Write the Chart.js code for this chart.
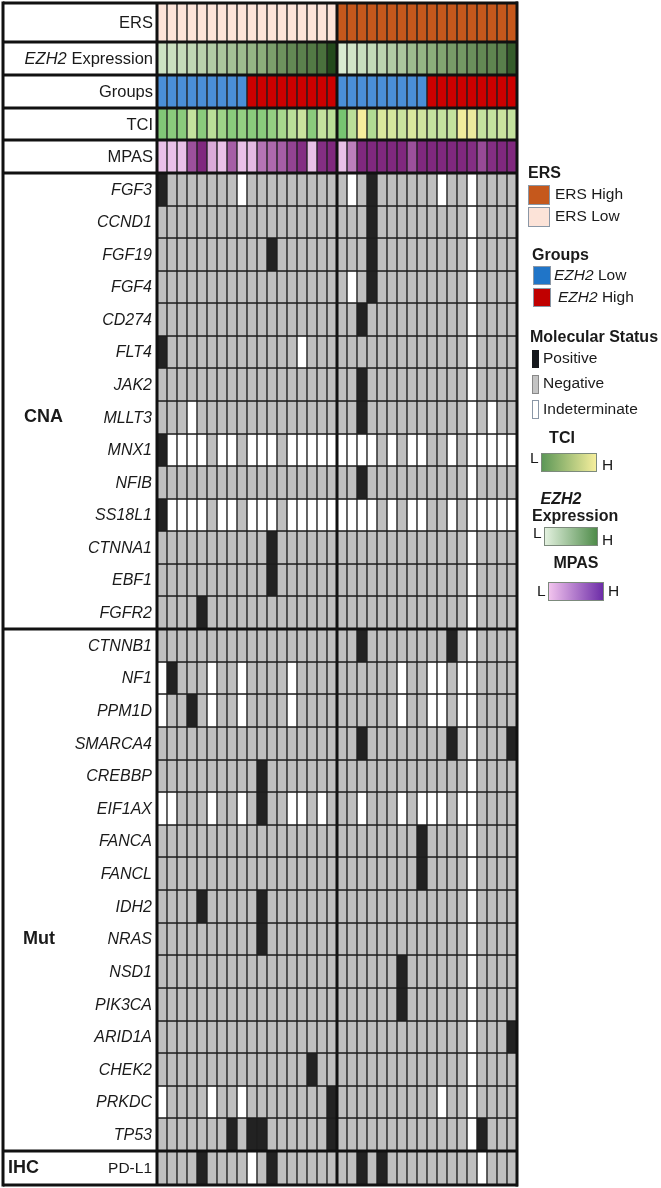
<!DOCTYPE html>
<html><head><meta charset="utf-8">
<script src="https://cdn.jsdelivr.net/npm/chart.js@4.4.0/dist/chart.umd.min.js"></script>
<style>html,body{margin:0;padding:0;background:#fff;}#wrap{width:661px;height:1188px;}</style>
</head><body><div id="wrap"><canvas id="c" width="661" height="1188"></canvas></div>
<script>
// ---------------- DATA ----------------
const patients = ['P1','P2','P3','P4','P5','P6','P7','P8','P9','P10','P11','P12','P13','P14','P15','P16','P17','P18',
                  'P19','P20','P21','P22','P23','P24','P25','P26','P27','P28','P29','P30','P31','P32','P33','P34','P35','P36'];
const annotLabels = ['ERS', 'EZH2 Expression', 'Groups', 'TCI', 'MPAS'];
// ERS: L = low, H = high
const ersStatus   = 'LLLLLLLLLLLLLLLLLLHHHHHHHHHHHHHHHHHH';
// Groups: L = EZH2 low, H = EZH2 high
const groupStatus = 'LLLLLLLLLHHHHHHHHHLLLLLLLLLHHHHHHHHH';
const ezh2Expr = [0.12,0.14,0.17,0.2,0.24,0.28,0.32,0.36,0.4,0.45,0.5,0.58,0.65,0.7,0.74,0.78,0.82,0.97,
                  0.05,0.1,0.15,0.18,0.22,0.28,0.32,0.4,0.45,0.5,0.55,0.6,0.62,0.66,0.7,0.72,0.75,0.9];
const tciScore = [0.15,0.2,0.2,0.5,0.2,0.45,0.3,0.2,0.25,0.2,0.2,0.25,0.35,0.45,0.55,0.2,0.5,0.45,
                  0.1,0.45,0.95,0.4,0.7,0.65,0.55,0.7,0.6,0.5,0.5,0.5,0.9,0.85,0.5,0.5,0.55,0.5];
const mpasScore = [0.05,0.05,0.05,0.6,0.9,0.15,0.05,0.5,0.05,0.08,0.4,0.45,0.5,0.7,0.85,0.05,0.85,0.9,
                   0.05,0.35,0.9,0.9,0.9,0.9,0.9,0.6,0.9,0.9,0.9,0.9,0.9,0.85,0.65,0.85,0.9,0.9];
// Molecular status: 0 negative, 1 positive, 2 indeterminate (18 ERS-low + 18 ERS-high)
const cnaGenes = ['FGF3','CCND1','FGF19','FGF4','CD274','FLT4','JAK2','MLLT3','MNX1','NFIB','SS18L1','CTNNA1','EBF1','FGFR2'];
const cnaStatus = [
  '100000002000000000'+'020100000020020000',
  '000000000000000000'+'000100000000020000',
  '000000000001000000'+'000100000000020000',
  '000000000000000000'+'020100000000020000',
  '000000000000000000'+'001000000000020000',
  '100000000000002000'+'000000000000020000',
  '000000000000000000'+'001000000000020000',
  '000200000000000000'+'001000000000020200',
  '122220220222022222'+'222202022002022222',
  '000000000000000000'+'001000000000020000',
  '122220220222022222'+'222202022002022222',
  '000000000001000000'+'000000000000020000',
  '000000000001000000'+'000000000000020000',
  '000010000000000000'+'000000000000020000'
];
const mutGenes = ['CTNNB1','NF1','PPM1D','SMARCA4','CREBBP','EIF1AX','FANCA','FANCL','IDH2','NRAS','NSD1','PIK3CA','ARID1A','CHEK2','PRKDC','TP53'];
const mutStatus = [
  '000000000000000000'+'001000000001020000',
  '210002002000020000'+'000000200220220000',
  '200102002000020000'+'000000200220220000',
  '000000000000000000'+'001000000001020001',
  '000000000010000000'+'000000000000020000',
  '220002002010022020'+'002000202220220000',
  '000000000000000000'+'000000001000020000',
  '000000000000000000'+'000000001000020000',
  '000010000010000000'+'000000000000020000',
  '000000000010000000'+'000000000000020000',
  '000000000000000000'+'000000100000020000',
  '000000000000000000'+'000000100000020000',
  '000000000000000000'+'000000000000020001',
  '000000000000000100'+'000000000000020000',
  '200002002000000001'+'000000000020020000',
  '000000010110000001'+'000000000000021000'
];
const ihcMarkers = ['PD-L1'];
const ihcStatus = ['000010000201000000'+'001010000000002000'];

// ---------------- STYLE ----------------
const FONT = "'Liberation Sans', Arial, sans-serif";
const statusColor = ['#bfbfbf', '#222222', '#ffffff'];
function hex2rgb(h){return [1,3,5].map(i=>parseInt(h.substr(i,2),16));}
function ramp(stops){ return v => {
  for (let i=0;i<stops.length-1;i++){
    const [a,ca]=stops[i],[b,cb]=stops[i+1];
    if (v<=b || i===stops.length-2){ const t=Math.max(0,Math.min(1,(v-a)/(b-a)));
      const A=hex2rgb(ca),B=hex2rgb(cb);
      return 'rgb('+A.map((x,k)=>Math.round(x+(B[k]-x)*t)).join(',')+')'; }
  }};}
const ezh2Ramp = ramp([[0,'#e2f2da'],[0.5,'#8cae7b'],[0.8,'#4f7641'],[1,'#1b4215']]);
const tciRamp  = ramp([[0,'#64bc66'],[0.5,'#c4e29e'],[1,'#fbee9c']]);
const mpasRamp = ramp([[0,'#f1ccef'],[0.5,'#a65ea6'],[1,'#761a74']]);

// ---------------- GEOMETRY ----------------
const annBounds = [3,42,75,108,140,173];
const cnaTop = 173, cnaBot = 629, mutBot = 1151, ihcBot = 1185;
const rows = [];
const annColors = [
  ersStatus.split('').map(s => s==='H' ? '#c5581c' : '#fce3d8'),
  ezh2Expr.map(ezh2Ramp),
  groupStatus.split('').map(s => s==='H' ? '#cc0000' : '#4a8fd8'),
  tciScore.map(tciRamp),
  mpasScore.map(mpasRamp)
];
annotLabels.forEach((n,i)=>rows.push({name:n, top:annBounds[i], bot:annBounds[i+1], colors:annColors[i]}));
function addBlock(names, status, top, bot){
  const h=(bot-top)/names.length;
  names.forEach((n,i)=>rows.push({name:n, top:Math.round(top+i*h), bot:Math.round(top+(i+1)*h),
    colors: status[i].split('').map(c=>statusColor[+c])}));
}
addBlock(cnaGenes, cnaStatus, cnaTop, cnaBot);
addBlock(mutGenes, mutStatus, cnaBot, mutBot);
addBlock(ihcMarkers, ihcStatus, mutBot, ihcBot);

const datasets = rows.map(r => ({
  label: r.name,
  data: patients.map(() => [r.top, r.bot]),
  backgroundColor: r.colors,
  borderColor: '#1e1e1e',
  borderWidth: 1,
  borderSkipped: false,
  grouped: false,
  categoryPercentage: 1,
  barPercentage: 1
}));

// ---------------- DECORATION PLUGIN ----------------
function mixedText(ctx, parts, x, y, align){
  let total=0; parts.forEach(p=>{ctx.font=p[1]; total+=ctx.measureText(p[0]).width;});
  let cx = align==='right' ? x-total : (align==='center' ? x-total/2 : x);
  ctx.textAlign='left';
  parts.forEach(p=>{ctx.font=p[1]; ctx.fillText(p[0],cx,y); cx+=ctx.measureText(p[0]).width;});
}
const framePlugin = {
  id:'frame',
  afterDatasetsDraw(chart){
    const ctx=chart.ctx, xs=chart.scales.x, ys=chart.scales.y;
    const xL=xs.left, xR=xs.right, xMid=(xs.getPixelForValue(17)+xs.getPixelForValue(18))/2;
    ctx.save();
    ctx.strokeStyle='#111'; ctx.lineWidth=3;
    const hline=(y,x0,x1)=>{ctx.beginPath();ctx.moveTo(x0,y);ctx.lineTo(x1,y);ctx.stroke();};
    const vline=(x,y0,y1)=>{ctx.beginPath();ctx.moveTo(x,y0);ctx.lineTo(x,y1);ctx.stroke();};
    const yTop=ys.getPixelForValue(annBounds[0]), yBot=ys.getPixelForValue(ihcBot);
    annBounds.forEach(v=>hline(ys.getPixelForValue(v),3,xR+1));
    [cnaBot, mutBot, ihcBot].forEach(v=>hline(ys.getPixelForValue(v),3,xR+1));
    vline(3,yTop-1.5,yBot+1.5); vline(xL,yTop,yBot); vline(xMid,yTop,yBot); vline(xR,yTop-1.5,yBot+1.5);
    // left labels
    ctx.fillStyle='#1a1a1a'; ctx.textBaseline='middle';
    rows.forEach((r,i)=>{
      const y=(ys.getPixelForValue(r.top)+ys.getPixelForValue(r.bot))/2+1;
      if (i<annotLabels.length){
        if (r.name==='EZH2 Expression') mixedText(ctx,[['EZH2','italic 16.5px '+FONT],[' Expression','16.5px '+FONT]],153,y,'right');
        else { ctx.font='16.5px '+FONT; ctx.textAlign='right'; ctx.fillText(r.name,153,y); }
      } else if (ihcMarkers.includes(r.name)){
        ctx.font='15.5px '+FONT; ctx.textAlign='right'; ctx.fillText(r.name,152,y);
      } else {
        ctx.font='italic 16px '+FONT; ctx.textAlign='right'; ctx.fillText(r.name,152,y);
      }
    });
    const rowMid=n=>{const r=rows.find(q=>q.name===n);return (ys.getPixelForValue(r.top)+ys.getPixelForValue(r.bot))/2;};
    ctx.font='bold 18px '+FONT; ctx.textAlign='left';
    ctx.fillText('CNA',24,rowMid('MLLT3'));
    ctx.fillText('Mut',23,rowMid('NRAS'));
    ctx.fillText('IHC',8,rowMid('PD-L1'));
    // legend
    ctx.textBaseline='middle'; ctx.fillStyle='#1a1a1a';
    const sw=(x,y,w,h,fill,stroke)=>{ctx.fillStyle=fill;ctx.fillRect(x,y,w,h);ctx.lineWidth=1;ctx.strokeStyle=stroke||'#8a97a6';ctx.strokeRect(x+0.5,y+0.5,w-1,h-1);ctx.fillStyle='#1a1a1a';};
    const B='bold 16px '+FONT, N='15.5px '+FONT, I='italic 15.5px '+FONT;
    ctx.font=B; ctx.textAlign='left'; ctx.fillText('ERS',528,174);
    sw(528,185,22,20,'#c5581c'); ctx.font=N; ctx.fillText('ERS High',555,195);
    sw(528,207,22,20,'#fce3d8'); ctx.fillText('ERS Low',555,217);
    ctx.font=B; ctx.fillText('Groups',532,256);
    sw(533,266,18,19,'#2075c8'); mixedText(ctx,[['EZH2',I],[' Low',N]],554,276,'left');
    sw(533,288,18,19,'#c00000'); mixedText(ctx,[['EZH2',I],[' High',N]],558,298,'left');
    ctx.font=B; ctx.textAlign='left'; ctx.fillText('Molecular Status',530,338);
    sw(532,350,7,18,'#15181c','#15181c'); ctx.font=N; ctx.fillText('Positive',543,359);
    sw(532,375,7,19,'#c4c4c4','#888'); ctx.fillText('Negative',543,384);
    sw(532,400,7,19,'#ffffff','#8a97a6'); ctx.fillText('Indeterminate',543,410);
    const grad=(x,y,w,h,c0,c1)=>{const g=ctx.createLinearGradient(x,0,x+w,0);g.addColorStop(0,c0);g.addColorStop(1,c1);sw(x,y,w,h,g,'#7c8a7c');};
    ctx.font=B; ctx.textAlign='center'; ctx.fillText('TCI',562,439);
    grad(541,453,56,19,'#5a9656','#f8f09e');
    ctx.font=N; ctx.textAlign='left'; ctx.fillText('L',530,459); ctx.fillText('H',602,466);
    mixedText(ctx,[['EZH2','bold italic 16px '+FONT]],561,500,'center');
    ctx.font=B; ctx.textAlign='left'; ctx.fillText('Expression',532,517);
    grad(544,527,54,19,'#e6f3e2','#4c8a47');
    ctx.font=N; ctx.fillText('L',533,534); ctx.fillText('H',602,541);
    ctx.font=B; ctx.textAlign='center'; ctx.fillText('MPAS',576,564);
    grad(548,582,56,19,'#f4c6ef','#6a2aa6');
    ctx.font=N; ctx.textAlign='left'; ctx.fillText('L',537,592); ctx.fillText('H',608,592);
    ctx.restore();
  }
};

new Chart(document.getElementById('c'), {
  type:'bar',
  data:{labels:patients, datasets},
  options:{
    responsive:false, animation:false, events:[],
    layout:{padding:{left:157,right:144,top:0,bottom:0}},
    plugins:{legend:{display:false}, tooltip:{enabled:false}},
    scales:{
      x:{display:false, offset:true},
      y:{display:false, min:0, max:1188, reverse:true}
    }
  },
  plugins:[framePlugin]
});
</script></body></html>
